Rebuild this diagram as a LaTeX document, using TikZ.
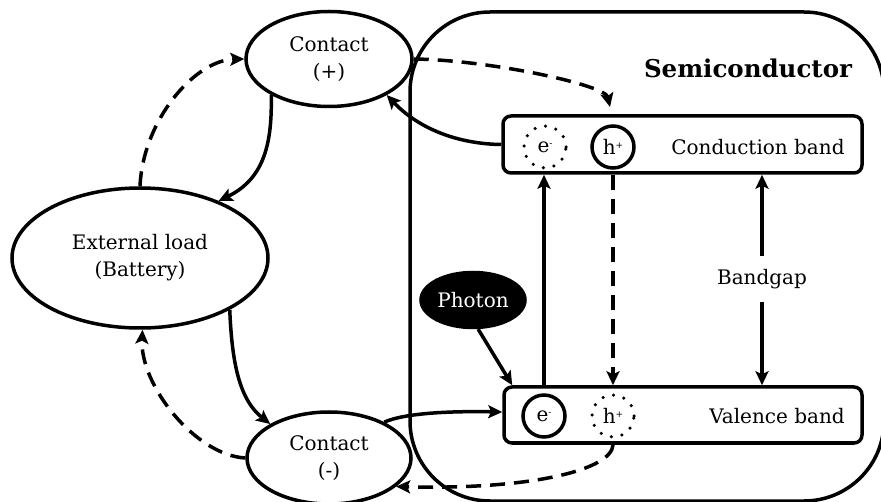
\documentclass[tikz,border=0pt]{standalone}
\usepackage{fontspec}
\setmainfont{DejaVu Serif}
\usetikzlibrary{arrows.meta,shapes.geometric,calc}

\newcommand{\charge}[1]{\raisebox{0.55ex}{\fontsize{9}{9}\selectfont #1}}

\begin{document}
\begin{tikzpicture}[x=1pt,y=-1pt, line width=3.5pt,
  every node/.style={font=\fontsize{20}{27}\selectfont},
  oval/.style={draw, ellipse, inner sep=0pt, align=center},
  band/.style={draw, rectangle, rounded corners=8pt, inner sep=0pt},
  carrier/.style={draw, circle, minimum size=42pt, inner sep=0pt},
  dotring/.style={carrier, dash pattern=on 0pt off 10.8pt, line cap=round},
  arr/.style={-{Stealth[length=14pt,width=13pt,inset=3pt]}},
  dsh/.style={dash pattern=on 15pt off 9pt},
]
\useasboundingbox (0,0) rectangle (881,502);

% semiconductor region
\draw[rounded corners=80pt] (410,12) rectangle (884,501);
\node[font=\bfseries\fontsize{24.5}{28}\selectfont] (sc) at (748,68) {Semiconductor};

% external circuit
\node[oval, minimum width=166pt, minimum height=95pt] (cp) at (329,59) {Contact\\(+)};
\node[oval, minimum width=256pt, minimum height=140pt] (el) at (140,258) {External load\\(Battery)};
\node[oval, minimum width=164pt, minimum height=92pt] (cm) at (329,458) {Contact\\(-)};
\node[oval, fill=black, text=white, minimum width=104pt, minimum height=55pt] (ph) at (473,300) {Photon};

% bands
\node[band, minimum width=359pt, minimum height=57pt] (cb) at (682.5,144.5) {};
\node (cbl) at (758,147) {Conduction band};
\node[band, minimum width=358pt, minimum height=56pt] (vb) at (683,415) {};
\node (vbl) at (777,416) {Valence band};

% carriers
\node[dotring] (ce) at (545,147) {e\charge{-}};
\node[carrier] (ch) at (613,147) {h\charge{+}};
\node[carrier] (ve) at (544,416) {e\charge{-}};
\node[dotring] (vh) at (613,416) {h\charge{+}};

\node[minimum height=42pt, inner sep=0pt] (bg) at (762,279) {Bandgap};

% helper end points
\coordinate (chtop) at (610,107);
\coordinate (vbw) at ([yshift=3pt]vb.west);
\coordinate (vbc) at ($(vb.north west)+(10,0)$);

% transitions inside the semiconductor
\draw[arr] (ve |- vb.north) -- (ve |- cb.south);
\draw[arr, dsh] (ch |- cb.south) -- (ch |- vb.north);
\draw[arr] (bg.north) -- (bg |- cb.south);
\draw[arr] (bg.south) -- (bg |- vb.north);
\draw[arr] (ph.-80) -- (vbc);

% circuit connections
\draw[arr] (cp.212) .. controls (272,140) and (266,178) .. (el.36);
\draw[arr] (el.330) .. controls (232,365) and (240,400) .. (cm.150);
\draw[arr, dsh] (cm.west) .. controls (195,455) and (140,385) .. (el.272);
\draw[arr, dsh] (el.north) .. controls (143,120) and (195,60) .. (cp.west);
\draw[arr, dsh] (cp.east) .. controls (490,60) and (605,85) .. (chtop);
\draw[arr] (cb.west) .. controls (460,144) and (420,130) .. (cp.328);
\draw[arr] (cm.33) .. controls (405,413) and (450,411) .. (vbw);
\draw[arr, dsh] (vh |- vb.south) .. controls (612,470) and (530,490) .. (cm.337);
\end{tikzpicture}
\end{document}
